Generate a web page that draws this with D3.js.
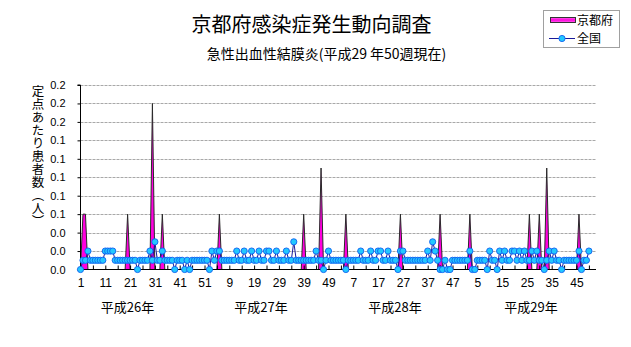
<!DOCTYPE html>
<html>
<head>
<meta charset="utf-8">
<script src="https://cdn.jsdelivr.net/npm/d3@7"></script>
<style>
  html, body { margin: 0; padding: 0; background: #fff; }
  svg { display: block; }
</style>
</head>
<body>
<svg id="chart" width="631" height="347"></svg>
<script>
// ---------------- data ----------------
const title = "京都府感染症発生動向調査";
const subtitle = "急性出血性結膜炎(平成29 年50週現在)";
const yAxisTitle = "定点あたり患者数（人）";
const seriesNames = ["京都府", "全国"];
const yearLabels = ["平成26年", "平成27年", "平成28年", "平成29年"];

// 京都府 (per sentinel), weekly, by year
const kyotoH26 = [0,0.06,0.06,0,0,0,0,0,0,0, 0,0,0,0,0,0,0,0,0,0.06, 0,0,0,0,0,0,0,0,0,0.18,
                  0,0,0,0.06,0,0,0,0,0,0, 0,0,0,0,0,0,0,0,0,0, 0,0];
const kyotoH27 = [0,0,0,0,0.06,0,0,0,0,0, 0,0,0,0,0,0,0,0,0,0, 0,0,0,0,0,0,0,0,0,0,
                  0,0,0,0,0,0,0,0,0.06,0, 0,0,0,0,0,0.11,0,0,0,0, 0,0];
const kyotoH28 = [0,0,0,0.06,0,0,0,0,0,0, 0,0,0,0,0,0,0,0,0,0, 0,0,0,0,0,0.06,0,0,0,0,
                  0,0,0,0,0,0,0,0,0,0, 0,0.06,0,0,0,0,0,0,0,0, 0,0];
const kyotoH29 = [0,0.06,0,0,0,0,0,0,0,0, 0,0,0,0,0,0,0,0,0,0, 0,0,0,0,0,0.06,0,0,0,0.06,
                  0,0,0.11,0,0,0,0,0,0,0, 0,0,0,0,0,0.06,0,0,0,0];

// 全国 (per sentinel), weekly, by year
const zenkokuH26 = [0,0.01,0.01,0.02,0.01,0.01,0.01,0.01,0.01,0.01,
                    0.02,0.02,0.02,0.02,0.01,0.01,0.01,0.01,0.01,0.01,
                    0.01,0.01,0.01,0,0.01,0.01,0.01,0.01,0.02,0.01,
                    0.03,0.01,0.01,0.02,0.01,0.01,0.01,0.01,0,0.01,
                    0.01,0.01,0,0.01,0,0.01,0.01,0.01,0.01,0.01,
                    0.01,0.01];
const zenkokuH27 = [0,0.02,0.01,0.02,0.02,0.01,0.01,0.01,0.01,0.01,
                    0.01,0.02,0.01,0.01,0.02,0.01,0.01,0.02,0.01,0.01,
                    0.02,0.01,0.01,0.02,0.02,0.01,0.01,0.02,0.01,0.01,
                    0.01,0.02,0.01,0.01,0.03,0.01,0.01,0.01,0.01,0.01,
                    0.01,0.01,0.01,0.02,0.01,0.01,0,0.01,0.02,0.01,
                    0.01,0.01];
const zenkokuH28 = [0.01,0.01,0.01,0,0.01,0.01,0.01,0.01,0.01,0.02,
                    0.01,0.01,0.01,0.02,0.01,0.01,0.02,0.02,0.01,0.01,
                    0.02,0.01,0.01,0.01,0,0.02,0.02,0.01,0.01,0.01,
                    0.01,0.01,0.01,0.01,0.01,0.01,0.02,0.01,0.03,0.02,
                    0.01,0,0,0.01,0,0,0.01,0.01,0.01,0.01,
                    0.01,0.01];
const zenkokuH29 = [0.01,0.02,0,0,0.01,0.01,0.01,0.01,0,0.02,
                    0.01,0.01,0,0.02,0.01,0.02,0.01,0.01,0.02,0.02,
                    0.01,0.02,0.01,0.02,0.01,0.01,0.02,0.01,0.02,0.01,
                    0.01,0,0.01,0.02,0.01,0.02,0.01,0.01,0,0.01,
                    0.01,0.01,0.01,0.01,0.01,0.02,0,0.01,0.01,0.02];

const xTickLabels = ["1","11","21","31","41","51","9","19","29","39","49",
                     "7","17","27","37","47","5","15","25","35","45"];
const yTicks = [0,0.02,0.04,0.06,0.08,0.10,0.12,0.14,0.16,0.18,0.20];
const yTickLabels = ["0.0","0.0","0.0","0.1","0.1","0.1","0.1","0.1","0.2","0.2","0.2"];

// ---------------- build ----------------
const kyoto = [].concat(kyotoH26, kyotoH27, kyotoH28, kyotoH29);
const zenkoku = [].concat(zenkokuH26, zenkokuH27, zenkokuH28, zenkokuH29);
const n = zenkoku.length;

const svg = d3.select("#chart");
const FONT_JP = "'Noto Sans CJK JP', 'Noto Sans', sans-serif";
const FONT_NUM = "'Liberation Sans Narrow', 'Arial Narrow', 'Liberation Sans', sans-serif";

const plot = { left: 80.5, right: 596, top: 85, bottom: 269.5 };
const x = d3.scaleLinear().domain([0, n - 1]).range([80.5, 80.5 + 2.48 * (n - 1)]);
const y = d3.scaleLinear().domain([0, 0.2]).range([plot.bottom, plot.top]);

// gridlines
svg.append("g").selectAll("line").data(yTicks.slice(1)).join("line")
  .attr("x1", plot.left).attr("x2", plot.right)
  .attr("y1", d => Math.round(y(d)) + 0.5).attr("y2", d => Math.round(y(d)) + 0.5)
  .attr("stroke", "#a8a8a8").attr("stroke-width", 1).attr("stroke-dasharray", "3,1");

// Kyoto area
const defs = svg.append("defs");
const grad = defs.append("linearGradient").attr("id", "magGrad").attr("x1", 0).attr("x2", 0).attr("y1", 0).attr("y2", 1);
grad.append("stop").attr("offset", "0%").attr("stop-color", "#ff66ee");
grad.append("stop").attr("offset", "50%").attr("stop-color", "#ff00dd");
grad.append("stop").attr("offset", "100%").attr("stop-color", "#ff66ee");

const area = d3.area().x((d, i) => x(i)).y0(y(0)).y1(d => y(d));
svg.append("path").datum(kyoto).attr("d", area).attr("fill", "#ff00e0");
svg.append("path").datum(kyoto)
  .attr("d", d3.line().x((d, i) => x(i)).y(d => y(d)))
  .attr("fill", "none").attr("stroke", "#2a2a2a").attr("stroke-width", 1);

// axes
const yAxis = d3.axisLeft(y).tickValues(yTicks)
  .tickFormat((d, i) => yTickLabels[i]).tickSize(3).tickPadding(12);
const gy = svg.append("g").attr("transform", `translate(${plot.left},0)`).call(yAxis);
gy.select(".domain").attr("stroke", "#000").attr("d", `M-3,${plot.top}H0V${plot.bottom}`);
gy.selectAll(".tick line").attr("stroke", "#000");
gy.selectAll("text").attr("font-family", FONT_NUM).attr("font-size", 11).attr("fill", "#000");

const xAxis = d3.axisBottom(x).tickValues(d3.range(0, n, 5))
  .tickFormat(d => (d % 10 === 0 ? xTickLabels[d / 10] : ""))
  .tickSizeInner(-4).tickSizeOuter(0).tickPadding(9);
const gx = svg.append("g").attr("transform", `translate(0,${plot.bottom})`).call(xAxis);
gx.select(".domain").attr("stroke", "#000").attr("d", `M${plot.left},0H${plot.right}`);
gx.selectAll(".tick line").attr("stroke", "#000");
gx.selectAll("text").attr("font-family", FONT_NUM).attr("font-size", 12).attr("fill", "#000");

// national line + markers
svg.append("path").datum(zenkoku)
  .attr("d", d3.line().x((d, i) => x(i)).y(d => y(d)))
  .attr("fill", "none").attr("stroke", "#1a1a9a").attr("stroke-width", 1);
svg.append("g").selectAll("circle").data(zenkoku).join("circle")
  .attr("cx", (d, i) => x(i)).attr("cy", d => y(d)).attr("r", 3.1)
  .attr("fill", "#22c8ff").attr("stroke", "#1060f0").attr("stroke-width", 0.9);

// titles
svg.append("text").attr("x", 311.5).attr("y", 32).attr("text-anchor", "middle")
  .attr("font-family", FONT_JP).attr("font-size", 20).attr("font-weight", 400).text(title);
svg.append("text").attr("x", 326.5).attr("y", 58.5).attr("text-anchor", "middle")
  .attr("font-family", FONT_JP).attr("font-size", 14).text(subtitle);

// y-axis title (vertical writing)
svg.append("text").attr("x", 38).attr("y", 85)
  .attr("font-family", FONT_JP).attr("font-size", 12.5)
  .style("writing-mode", "vertical-rl")
  .style("letter-spacing", "0.5px")
  .text(yAxisTitle);

// year labels
const yearX = [127.5, 261, 395, 531];
svg.append("g").selectAll("text").data(yearLabels).join("text")
  .attr("x", (d, i) => yearX[i]).attr("y", 311.5).attr("text-anchor", "middle")
  .attr("font-family", FONT_JP).attr("font-size", 13).text(d => d);

// legend
const lg = svg.append("g");
lg.append("rect").attr("x", 543.5).attr("y", 10.5).attr("width", 76).attr("height", 37)
  .attr("fill", "#fff").attr("stroke", "#a0a0a0");
lg.append("rect").attr("x", 550.5).attr("y", 17.5).attr("width", 25).attr("height", 5)
  .attr("fill", "url(#magGrad)").attr("stroke", "#333").attr("stroke-width", 1);
lg.append("text").attr("x", 577).attr("y", 24.5).attr("font-family", FONT_JP).attr("font-size", 12).text(seriesNames[0]);
lg.append("line").attr("x1", 549).attr("x2", 575).attr("y1", 38.5).attr("y2", 38.5)
  .attr("stroke", "#1a1a9a").attr("stroke-width", 1);
lg.append("circle").attr("cx", 562).attr("cy", 38.5).attr("r", 3.1)
  .attr("fill", "#22c8ff").attr("stroke", "#1060f0").attr("stroke-width", 0.9);
lg.append("text").attr("x", 577).attr("y", 42.5).attr("font-family", FONT_JP).attr("font-size", 12).text(seriesNames[1]);
</script>
</body>
</html>
